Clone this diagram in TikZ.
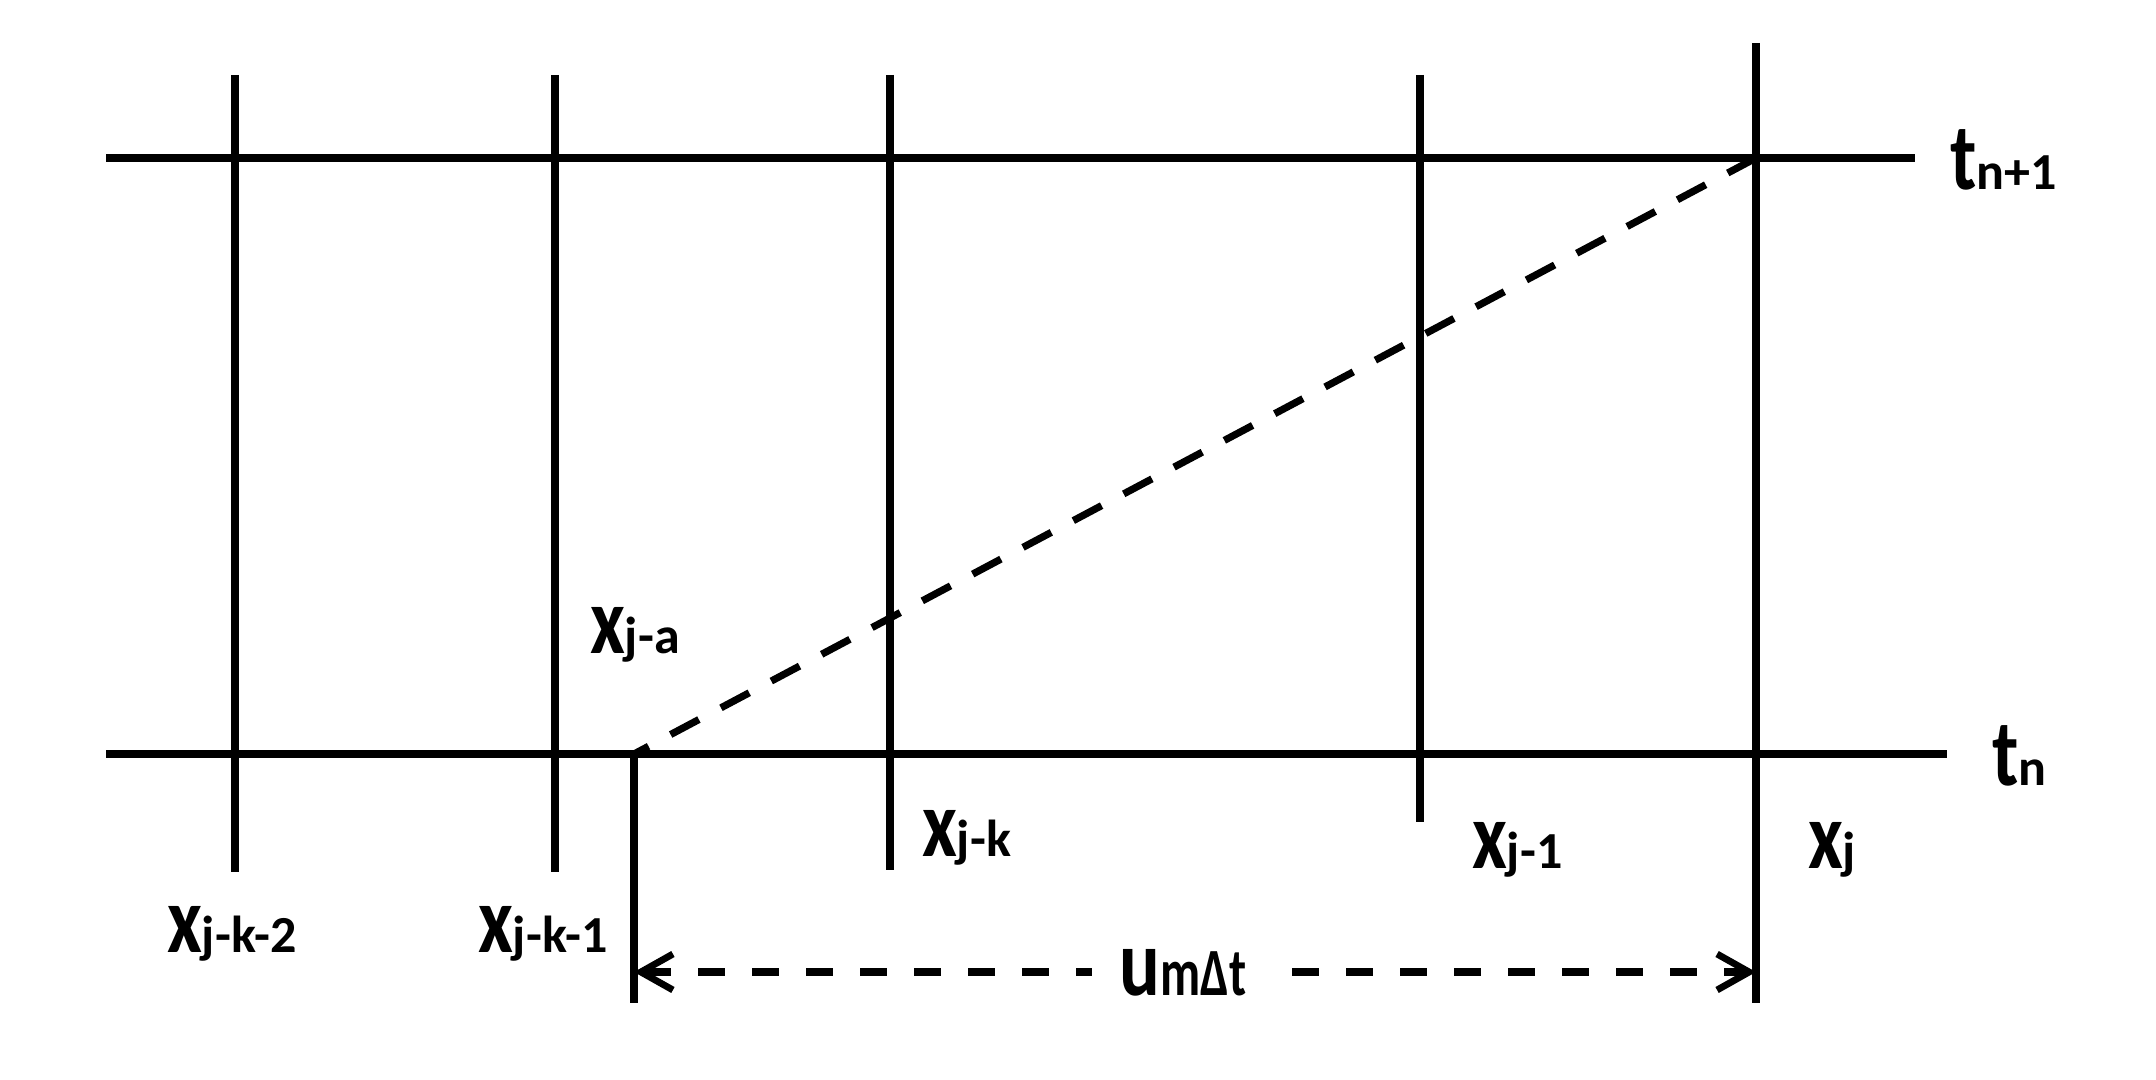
\documentclass[tikz,border=0pt]{standalone}
\usepackage{fontspec}
\setmainfont{Carlito}
\usetikzlibrary{arrows.meta}
\newcommand\mainlet[1]{\scalebox{1}[1.25]{\fontsize{38pt}{40pt}\selectfont\bfseries #1}}
\newcommand\sublet[1]{{\fontsize{26pt}{28pt}\selectfont\bfseries #1}}
\newcommand\labtxt[2]{\mainlet{#1}\sublet{#2}}
\begin{document}
\begin{tikzpicture}[x=0.5pt,y=-0.5pt,
  gridline/.style={line width=3.6pt,black,line cap=butt},
  dashline/.style={line width=3.6pt,black,dash pattern=on 16pt off 12.5pt},
  dimline/.style={line width=3.8pt,black,dash pattern=on 13.5pt off 13.5pt,
     {Straight Barb[length=16pt,width=18pt,line width=3.4pt]}-{Straight Barb[length=16pt,width=18pt,line width=3.4pt]}},
  lab/.style={inner sep=0pt,outer sep=0pt,anchor=base west}]
\useasboundingbox (0,0) rectangle (2156,1080);
% endpoints
\coordinate (tl) at (106,158);
\coordinate (tr) at (1915,158);
\coordinate (bl) at (106,754);
\coordinate (br) at (1947,754);
\coordinate (v1t) at (235,75);   \coordinate (v1b) at (235,872);
\coordinate (v2t) at (555,75);   \coordinate (v2b) at (555,872);
\coordinate (v3t) at (890,75);   \coordinate (v3b) at (890,870);
\coordinate (v4t) at (1420,75);  \coordinate (v4b) at (1420,822);
\coordinate (v5t) at (1756,43);  \coordinate (v5b) at (1756,1003);
\coordinate (sht) at (634,754);  \coordinate (shb) at (634,1003);
\coordinate (cross) at (1756,158);
\coordinate (dl) at (634,972);
\coordinate (dr) at (1756,972);
% grid
\draw[gridline] (tl) -- (tr);
\draw[gridline] (bl) -- (br);
\draw[gridline] (v1t) -- (v1b);
\draw[gridline] (v2t) -- (v2b);
\draw[gridline] (v3t) -- (v3b);
\draw[gridline] (v4t) -- (v4b);
\draw[gridline] (v5t) -- (v5b);
\draw[gridline] (sht) -- (shb);
% characteristic
\draw[dashline] (cross) -- (sht);
% dimension
\draw[dimline] (dl) -- (dr);
\node[fill=white,inner xsep=14pt,inner ysep=4pt,anchor=base] (um) at (1183,995) {\mainlet{u}\scalebox{0.95}[1.3]{\sublet{mΔt}}};
% labels
\node[lab] (tn1) at (1950,190) {\labtxt{t}{n+1}};
\node[lab] (tn) at (1992,785) {\labtxt{t}{n}};
\node[lab] (xj) at (1808,868) {\labtxt{x}{j}};
\node[lab] (xj1) at (1472,868) {\labtxt{x}{j-1}};
\node[lab] (xjk) at (922,856) {\labtxt{x}{j-k}};
\node[lab] (xja) at (590,653) {\labtxt{x}{j-a}};
\node[lab] (xjk1) at (478,952) {\labtxt{x}{j-k-1}};
\node[lab] (xjk2) at (167,952) {\labtxt{x}{j-k-2}};
\end{tikzpicture}
\end{document}
